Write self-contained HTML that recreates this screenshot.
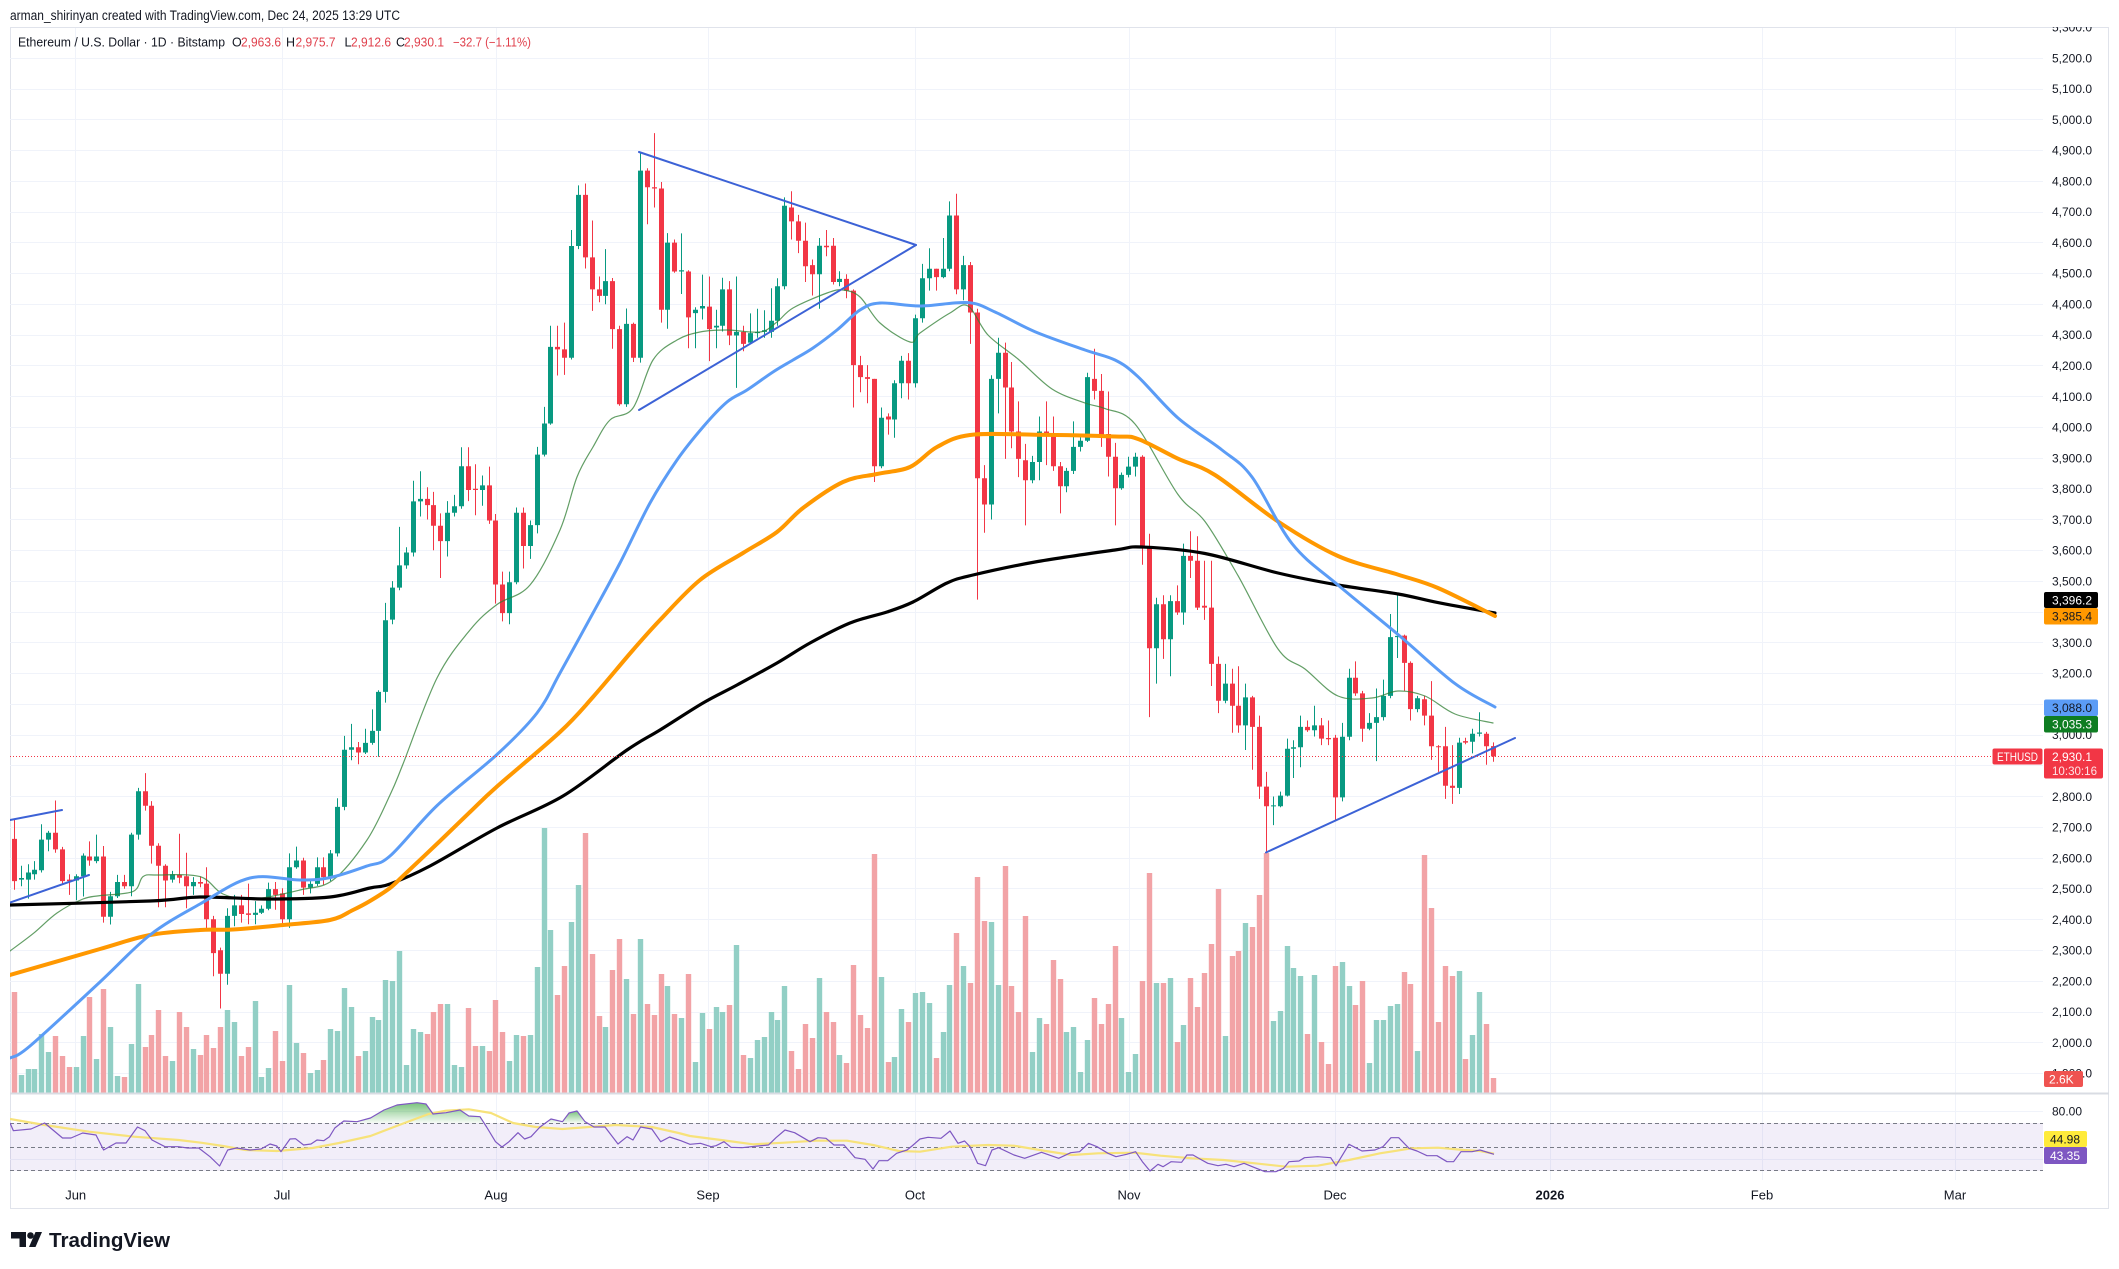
<!DOCTYPE html>
<html><head><meta charset="utf-8"><title>ETHUSD chart</title>
<style>
html,body{margin:0;padding:0;background:#fff;width:2119px;height:1269px;overflow:hidden}
svg{display:block}
text{font-family:"Liberation Sans",Arial,sans-serif}
</style></head><body>
<svg width="2119" height="1269" viewBox="0 0 2119 1269" xmlns="http://www.w3.org/2000/svg">
<defs>
<clipPath id="pane"><rect x="10" y="27" width="2033" height="1066"/></clipPath>
<clipPath id="axclip"><rect x="2043" y="27" width="66" height="1066"/></clipPath>
<clipPath id="rsi"><rect x="10" y="1094" width="2033" height="86"/></clipPath>
<linearGradient id="ob" x1="0" y1="0" x2="0" y2="1">
<stop offset="0" stop-color="#4caf50" stop-opacity="0.75"/>
<stop offset="1" stop-color="#4caf50" stop-opacity="0.05"/>
</linearGradient>
</defs>
<rect x="0" y="0" width="2119" height="1269" fill="#fff"/>
<text x="10" y="20" font-size="13.5" fill="#131722" textLength="390" lengthAdjust="spacingAndGlyphs">arman_shirinyan created with TradingView.com, Dec 24, 2025 13:29 UTC</text>
<rect x="10.5" y="27.5" width="2098" height="1181" fill="none" stroke="#e0e3eb" stroke-width="1"/>

<!-- grid -->
<path d="M10 58.5H2043M10 89.5H2043M10 119.5H2043M10 150.5H2043M10 181.5H2043M10 212.5H2043M10 242.5H2043M10 273.5H2043M10 304.5H2043M10 335.5H2043M10 365.5H2043M10 396.5H2043M10 427.5H2043M10 458.5H2043M10 488.5H2043M10 519.5H2043M10 550.5H2043M10 581.5H2043M10 612.5H2043M10 642.5H2043M10 673.5H2043M10 704.5H2043M10 735.5H2043M10 765.5H2043M10 796.5H2043M10 827.5H2043M10 858.5H2043M10 888.5H2043M10 919.5H2043M10 950.5H2043M10 981.5H2043M10 1012.5H2043M10 1042.5H2043M10 1073.5H2043" stroke="#f0f3fa" stroke-width="1" fill="none"/>
<path d="M75.5 28V1180M282.5 28V1180M496.5 28V1180M708.5 28V1180M915.5 28V1180M1129.5 28V1180M1335.5 28V1180M1550.5 28V1180M1762.5 28V1180M1955.5 28V1180" stroke="#f0f3fa" stroke-width="1" fill="none"/>

<g clip-path="url(#pane)" id="main">
<path id="gv" fill="#92cfc5" d=""/>
<path id="rv" fill="#f2a3a6" d=""/>
<path id="gw" stroke="#089981" stroke-width="1" fill="none" d=""/>
<path id="rw" stroke="#f23645" stroke-width="1" fill="none" d=""/>
<path id="gb" fill="#089981" d=""/>
<path id="rb" fill="#f23645" d=""/>

<polyline class="sm" fill="none" stroke="#2e7d32" stroke-opacity="0.75" stroke-width="1.2" stroke-linejoin="round" points="10,951 33,933.7 57,913 83,899 100,895.6 133,891.5 143,876.6 157,875 200,876.6 223,894 253,899 300,890 333,880 367,840 390,795 403,764 437,678 470,630 497,604.5 530,585 560,530 577,477 593,447 610,420 633,408 653,360 677,340 700,332 727,330 760,332 777,322 793,308 827,293 843,290 860,297 880,323 910,342 920,333 950,313 968,306 988,335 1018,359 1052,389 1085,403 1105,408.6 1135,424 1178,494.5 1205,521.5 1238,575.6 1278,649 1305,669 1338,696 1372,698 1398,691 1425,696 1455,714 1493,723"/>
<polyline class="sm" fill="none" stroke="#000" stroke-width="3.2" stroke-linejoin="round" points="10,905 150,901 200,897 267,899 330,897 370,888 390,884 430,866 497,828 563,796 627,750 660,730 703,703 737,685 777,663 810,643 850,623 887,612 913,602 947,583 973,575 1035,562 1115,550 1142,547 1205,553.5 1278,573 1338,585 1398,594 1438,602.6 1495,613"/>
<polyline class="sm" fill="none" stroke="#ff9800" stroke-width="4" stroke-linejoin="round" points="10,975 100,949 150,935 200,930 233,929.5 283,925 330,920 353,910 370,901 390,888 403,876 440,841 470,812 497,786.5 560,732 593,697 633,650 660,620 700,580 743,553 777,532 803,508 843,482 877,474 910,467 937,447 970,435 1035,434.7 1115,436.5 1138,439 1178,458.7 1215,475 1278,521.5 1338,556 1398,574.6 1438,588 1495,616"/>
<polyline class="sm" fill="none" stroke="#5b9cf6" stroke-width="3" stroke-linejoin="round" points="10,1058 30,1046 100,982 150,935 200,904 250,878 300,880 330,877.6 367,866 390,856 437,805.6 497,754.5 537,713 560,673 593,613 620,563 650,503 677,460 703,427 727,402 747,390 773,372 793,360 813,348 837,330 860,310 880,303 920,306 968,302.6 995,312 1035,331.7 1085,350 1115,360 1138,376.7 1178,418 1222,450 1252,477 1292,543.6 1338,585 1398,634.5 1455,683.6 1495,707"/>

<g stroke="#3c62d6" stroke-width="2" fill="none" stroke-linecap="round">
<line x1="10" y1="820" x2="62" y2="810"/>
<line x1="10" y1="902.5" x2="89" y2="875"/>
<line x1="639" y1="152" x2="916" y2="245"/>
<line x1="639" y1="410" x2="916" y2="245"/>
<line x1="1266" y1="852.5" x2="1515" y2="738"/>
</g>
</g>
<line x1="10" y1="756.5" x2="1992" y2="756.5" stroke="#f23645" stroke-width="1" stroke-dasharray="1,2"/>

<!-- legend -->
<g font-size="12.5">
<text x="18" y="46.5" fill="#131722" textLength="207" lengthAdjust="spacingAndGlyphs">Ethereum / U.S. Dollar · 1D · Bitstamp</text>
<text x="232" y="46.5" fill="#131722">O</text><text x="241" y="46.5" fill="#e0404c" textLength="40" lengthAdjust="spacingAndGlyphs">2,963.6</text>
<text x="286" y="46.5" fill="#131722">H</text><text x="295.5" y="46.5" fill="#e0404c" textLength="40" lengthAdjust="spacingAndGlyphs">2,975.7</text>
<text x="344.5" y="46.5" fill="#131722">L</text><text x="351" y="46.5" fill="#e0404c" textLength="40" lengthAdjust="spacingAndGlyphs">2,912.6</text>
<text x="396" y="46.5" fill="#131722">C</text><text x="404" y="46.5" fill="#e0404c" textLength="40" lengthAdjust="spacingAndGlyphs">2,930.1</text>
<text x="453" y="46.5" fill="#e0404c" textLength="78" lengthAdjust="spacingAndGlyphs">−32.7 (−1.11%)</text>
</g>

<!-- price axis labels -->
<g font-size="12" fill="#131722" clip-path="url(#axclip)">
<text x="2052" y="31.5">5,300.0</text>
<text x="2052" y="62.3">5,200.0</text>
<text x="2052" y="93.1">5,100.0</text>
<text x="2052" y="123.8">5,000.0</text>
<text x="2052" y="154.6">4,900.0</text>
<text x="2052" y="185.4">4,800.0</text>
<text x="2052" y="216.2">4,700.0</text>
<text x="2052" y="246.9">4,600.0</text>
<text x="2052" y="277.7">4,500.0</text>
<text x="2052" y="308.5">4,400.0</text>
<text x="2052" y="339.2">4,300.0</text>
<text x="2052" y="370">4,200.0</text>
<text x="2052" y="400.8">4,100.0</text>
<text x="2052" y="431.5">4,000.0</text>
<text x="2052" y="462.3">3,900.0</text>
<text x="2052" y="493.1">3,800.0</text>
<text x="2052" y="523.9">3,700.0</text>
<text x="2052" y="554.6">3,600.0</text>
<text x="2052" y="585.4">3,500.0</text>
<text x="2052" y="616.2">3,400.0</text>
<text x="2052" y="646.9">3,300.0</text>
<text x="2052" y="677.7">3,200.0</text>
<text x="2052" y="708.5">3,100.0</text>
<text x="2052" y="739.2">3,000.0</text>
<text x="2052" y="770">2,900.0</text>
<text x="2052" y="800.8">2,800.0</text>
<text x="2052" y="831.6">2,700.0</text>
<text x="2052" y="862.3">2,600.0</text>
<text x="2052" y="893.1">2,500.0</text>
<text x="2052" y="923.9">2,400.0</text>
<text x="2052" y="954.6">2,300.0</text>
<text x="2052" y="985.4">2,200.0</text>
<text x="2052" y="1016.2">2,100.0</text>
<text x="2052" y="1046.9">2,000.0</text>
<text x="2052" y="1077.7">1,900.0</text>
</g>

<!-- price label boxes -->
<rect x="2044" y="592" width="54" height="16" rx="2" fill="#000"/>
<text x="2052" y="604.5" font-size="12" fill="#fff">3,396.2</text>
<rect x="2044" y="608" width="54" height="16.5" rx="2" fill="#ff9800"/>
<text x="2052" y="620.5" font-size="12" fill="#131722">3,385.4</text>
<rect x="2044" y="699.5" width="54" height="16.5" rx="2" fill="#5b9cf6"/>
<text x="2052" y="712" font-size="12" fill="#131722">3,088.0</text>
<rect x="2044" y="716" width="54" height="16.5" rx="2" fill="#0e7d22"/>
<text x="2052" y="728.5" font-size="12" fill="#fff">3,035.3</text>
<rect x="1992.5" y="748.5" width="50" height="16" rx="2" fill="#f23645"/>
<text x="1997" y="761" font-size="12" fill="#fff" textLength="41" lengthAdjust="spacingAndGlyphs">ETHUSD</text>
<rect x="2044" y="748.5" width="59" height="30" rx="2" fill="#f23645"/>
<text x="2052" y="761" font-size="12" fill="#fff">2,930.1</text>
<text x="2052" y="775" font-size="12" fill="#fde3e5" textLength="45" lengthAdjust="spacingAndGlyphs">10:30:16</text>
<rect x="2044" y="1071" width="39" height="16" rx="2" fill="#ef5350"/>
<text x="2049" y="1083.5" font-size="12" fill="#fff">2.6K</text>

<!-- pane separator -->
<line x1="10" y1="1093.5" x2="2109" y2="1093.5" stroke="#d9dce3" stroke-width="2"/>

<!-- RSI pane -->
<path d="M10 1111.5H2043M10 1159.5H2043" stroke="#f0f3fa" stroke-width="1"/>
<rect x="10" y="1123" width="2033" height="48" fill="#7e57c2" fill-opacity="0.1"/>
<g stroke="#787b86" stroke-width="1" stroke-dasharray="4,3">
<line x1="10" y1="1123.5" x2="2043" y2="1123.5"/>
<line x1="10" y1="1147.5" x2="2043" y2="1147.5"/>
<line x1="10" y1="1170.5" x2="2043" y2="1170.5"/>
</g>
<g clip-path="url(#rsi)">
<polygon fill="url(#ob)" points="340,1123 343.8,1121 357,1121.7 370.5,1118 384,1110 397,1105 417,1102.7 426,1104 433,1114 446,1112.7 460,1110 468.75,1116 480,1116.7 485,1123"/>
<polygon fill="url(#ob)" points="548,1123 551,1119 562.5,1121.7 569,1113 577,1111 585,1121.7 587,1123"/>
<polyline fill="none" stroke="#f7e27a" stroke-width="2.2" stroke-linejoin="round" points="10,1119 44.6,1125 89,1131.7 134,1136.7 178.6,1140 201,1142.7 223,1146 245.5,1150 276.8,1151 312.5,1148 339,1143 370.5,1136 401.8,1124 428.6,1114 446,1110.7 468.75,1109.3 491,1113 513,1123 535.7,1127 562.5,1129 589,1127 616,1125 651.8,1127 678.6,1133 690,1136 721,1140 753,1144.3 784,1142.7 815.5,1140.7 847,1140.7 873,1145 899,1151 920,1151.7 951.5,1146.7 988,1145 1014,1145.7 1045.6,1151 1072,1155 1098,1153.3 1134.6,1152.7 1160.7,1155.7 1192,1158.3 1223.5,1160 1255,1163.3 1286,1166.7 1317.6,1165.7 1349,1160 1380,1153.3 1411.7,1148.3 1438,1147.7 1464,1150 1480,1151 1494,1153.7"/>
<polyline fill="none" stroke="#7e57c2" stroke-width="1.2" stroke-linejoin="round" points="10,1123 13.4,1130.7 31,1129 44.6,1123 62.5,1138 71,1138 82.6,1133 96,1135 103.6,1150 116,1143 126,1143 137.5,1127 145,1130.7 152,1140 165,1146.7 178.6,1146.7 187.5,1148 198.7,1148 210,1156.7 219.6,1166 227.7,1150 236.6,1148 250,1150 261,1149 270,1144 276.8,1146 281,1151.7 290,1139 295.5,1138.7 303.6,1145 311,1144 317,1140 323.7,1140.7 329.5,1136.7 334.8,1128 343.8,1121 357,1121.7 370.5,1118 384,1110 397,1105 417,1102.7 426,1104 433,1114 446,1112.7 460,1110 468.75,1116 480,1116.7 486.6,1127 495.5,1141.7 502,1147 509,1141.7 518,1132.7 524.6,1139 531,1136.7 540,1127 551,1119 562.5,1121.7 569,1113 577,1111 585,1121.7 594,1127 605,1127 618,1144 627,1136.7 633,1140 640.6,1127 651.8,1129 660.7,1141.7 669.6,1137 680.8,1140.7 690,1144.3 700.5,1143.3 711,1146.7 716,1145.7 724,1141.7 731,1147.3 742,1147.7 758,1146 768.5,1145 776,1137.7 785,1130 794.6,1132.7 810,1141.7 818,1137.7 826,1138.3 834,1145 844,1145 855,1157.7 865,1159.3 873,1169 879,1160.7 887.7,1160.7 896.6,1153.3 907,1150 912,1146 920,1139 928,1137.3 941,1138.3 950,1131 958,1143.3 964.6,1141 970,1146.7 977.6,1163.3 985.5,1165.7 992,1150 998.6,1147.7 1014,1155 1024.7,1158.3 1041.5,1152.3 1058.7,1158.3 1070.7,1152.7 1079.6,1151.7 1088.5,1143.3 1097,1146.7 1108,1153.3 1116,1156.7 1126.7,1154.3 1135.6,1151.7 1142.4,1161.7 1150,1171 1158,1164.3 1163,1166.7 1171,1161.7 1181.6,1162.3 1186.9,1155 1193,1155 1200,1159 1207.8,1163.3 1218,1165.7 1226,1164.3 1234,1166.7 1244,1163.3 1254.8,1167.7 1265,1171.7 1275.8,1171.7 1283.6,1168.3 1289,1161.7 1299,1161 1304.5,1157.7 1317.6,1156.7 1330.7,1157.7 1336,1165.7 1349,1144.3 1362,1151 1375,1150 1383,1146.7 1391,1137.7 1398.7,1137.7 1409,1148.3 1417,1151 1427,1155.7 1437,1155.7 1447,1161.7 1453.6,1161.7 1461,1151.7 1472,1151.7 1480,1150 1494,1154.3"/>
</g>
<text x="2052" y="1115.5" font-size="12" fill="#131722">80.00</text>
<rect x="2044" y="1131" width="43" height="16" rx="2" fill="#ffeb3b"/>
<text x="2050" y="1143.5" font-size="12" fill="#131722">44.98</text>
<rect x="2044" y="1147" width="43" height="17" rx="2" fill="#7e57c2"/>
<text x="2050" y="1160" font-size="12" fill="#fff">43.35</text>

<!-- time axis -->
<g font-size="13" fill="#131722" text-anchor="middle">
<text x="75.7" y="1199.5">Jun</text>
<text x="282" y="1199.5">Jul</text>
<text x="496" y="1199.5">Aug</text>
<text x="708" y="1199.5">Sep</text>
<text x="915" y="1199.5">Oct</text>
<text x="1129" y="1199.5">Nov</text>
<text x="1335" y="1199.5">Dec</text>
<text x="1550" y="1199.5" font-weight="bold">2026</text>
<text x="1762" y="1199.5">Feb</text>
<text x="1955" y="1199.5">Mar</text>
</g>

<!-- logo -->
<path d="M11 1232H26V1247H19.5V1238.5H11Z" fill="#131722"/>
<circle cx="30.5" cy="1235.5" r="3.3" fill="#131722"/>
<path d="M35.5 1232H42L35.5 1247H29Z" fill="#131722"/>
<text x="49" y="1247" font-size="20" font-weight="bold" fill="#131722" textLength="121" lengthAdjust="spacingAndGlyphs">TradingView</text>
</svg>
<script>
(function(){
var s="2662,2727,2497,2525,992;2530,2575,2508,2535,1075;2530,2580,2468,2553,1069;2547,2590,2530,2562,1069;2560,2710,2553,2660,1034;2660,2688,2622,2682,1052;2682,2787,2617,2628,1036;2628,2636,2515,2525,1056;2530,2547,2480,2525,1067;2527,2547,2463,2541,1067;2541,2615,2475,2608,1036;2605,2654,2575,2592,997;2590,2676,2583,2605,1059;2605,2639,2390,2409,989;2409,2490,2384,2476,1027;2476,2545,2470,2522,1076;2522,2545,2500,2508,1077;2508,2682,2476,2676,1044;2676,2828,2660,2817,984;2817,2876,2754,2770,1047;2770,2785,2582,2640,1035;2640,2648,2440,2575,1010;2575,2580,2440,2527,1056;2530,2558,2520,2547,1061;2545,2679,2518,2536,1012;2541,2617,2437,2508,1027;2508,2538,2480,2522,1049;2522,2540,2505,2517,1055;2517,2570,2367,2401,1035;2401,2412,2216,2291,1048;2300,2309,2111,2224,1027;2224,2437,2188,2412,1010;2412,2480,2378,2446,1022;2446,2480,2390,2418,1056;2420,2517,2385,2415,1047;2415,2460,2385,2422,1001;2422,2446,2418,2435,1077;2435,2520,2430,2499,1068;2499,2522,2432,2480,1031;2485,2502,2384,2401,1061;2401,2615,2373,2570,985;2570,2637,2565,2592,1043;2592,2601,2480,2504,1053;2504,2530,2485,2516,1073;2516,2602,2509,2570,1070;2570,2602,2513,2538,1060;2538,2626,2525,2615,1029;2615,2794,2605,2766,1031;2766,2997,2755,2952,988;2952,3036,2918,2960,1007;2960,2977,2905,2943,1056;2943,3020,2938,2974,1051;2974,3083,2968,3013,1017;3013,3145,2929,3140,1020;3140,3429,3105,3373,980;3375,3500,3360,3479,981;3479,3676,3470,3551,951;3551,3610,3540,3593,1065;3593,3826,3580,3759,1029;3759,3857,3710,3767,1032;3767,3805,3700,3747,1034;3747,3790,3600,3680,1012;3680,3720,3510,3630,1004;3630,3760,3580,3722,1004;3722,3780,3710,3743,1065;3743,3935,3735,3873,1067;3873,3935,3760,3796,1008;3800,3880,3714,3796,1046;3796,3843,3745,3811,1046;3811,3872,3686,3697,1051;3697,3718,3427,3489,1000;3489,3531,3369,3396,1032;3396,3531,3360,3496,1061;3496,3739,3490,3722,1035;3722,3739,3541,3614,1036;3614,3697,3572,3682,1035;3682,3936,3655,3911,967;3911,4066,3905,4012,828;4012,4330,4008,4261,930;4261,4330,4168,4253,995;4253,4340,4170,4226,966;4226,4641,4220,4589,922;4589,4786,4579,4755,885;4755,4792,4516,4552,833;4552,4672,4378,4448,954;4448,4490,4406,4427,1016;4427,4579,4400,4475,1027;4475,4485,4255,4319,970;4319,4330,4070,4075,939;4075,4386,4066,4336,979;4336,4340,4212,4226,1014;4226,4890,4210,4834,939;4834,4842,4660,4780,1004;4780,4956,4714,4776,1015;4776,4797,4340,4382,974;4382,4631,4320,4600,986;4600,4610,4502,4506,1014;4506,4630,4433,4510,1018;4506,4510,4257,4357,974;4371,4390,4257,4382,1062;4386,4496,4350,4394,1013;4392,4490,4215,4319,1029;4324,4382,4257,4330,1007;4330,4486,4311,4448,1012;4448,4475,4267,4298,1005;4298,4490,4128,4310,945;4310,4330,4247,4271,1055;4275,4370,4270,4306,1058;4306,4385,4291,4310,1040;4310,4380,4291,4315,1037;4310,4452,4291,4346,1012;4346,4484,4330,4458,1020;4458,4747,4448,4720,986;4714,4767,4610,4669,1051;4669,4690,4566,4606,1069;4606,4665,4472,4523,1024;4527,4545,4428,4497,1038;4497,4615,4385,4590,978;4590,4641,4556,4585,1012;4590,4615,4464,4472,1022;4472,4507,4458,4482,1055;4482,4497,4419,4444,1063;4444,4448,4064,4202,965;4202,4232,4114,4163,1015;4163,4202,4078,4157,1028;4157,4157,3822,3873,854;3873,4064,3867,4031,977;4035,4045,3976,4025,1062;4025,4153,3966,4143,1057;4143,4232,4094,4216,1009;4216,4241,4090,4143,1022;4143,4366,4129,4354,993;4354,4531,4340,4484,992;4484,4582,4444,4515,1003;4515,4515,4444,4488,1058;4488,4615,4484,4515,1032;4515,4734,4507,4688,985;4688,4759,4432,4448,933;4448,4557,4413,4527,966;4527,4537,4271,4373,983;4373,4385,3440,3834,877;3834,3877,3657,3749,921;3749,4169,3700,4157,922;4157,4291,4045,4242,985;4242,4275,3897,4129,866;4129,4212,3932,3986,986;3986,4084,3838,3897,1012;3893,3946,3681,3828,916;3828,3907,3818,3887,1052;3887,4035,3828,3986,1018;3986,4084,3877,3976,1024;3980,4035,3858,3873,960;3873,3887,3720,3808,979;3808,3868,3789,3858,1032;3858,4019,3848,3936,1027;3936,3968,3921,3956,1072;3956,4177,3952,4163,1040;4157,4255,4090,4118,998;4118,4173,3936,3976,1024;3978,4116,3840,3904,1004;3904,3949,3681,3802,946;3802,3853,3797,3845,1018;3845,3904,3837,3872,1072;3872,3917,3840,3904,1054;3904,3909,3553,3606,981;3606,3654,3058,3282,873;3282,3446,3167,3425,983;3425,3454,3247,3311,983;3311,3454,3191,3435,978;3435,3486,3390,3398,1042;3398,3622,3358,3582,1025;3582,3662,3510,3566,978;3566,3646,3406,3414,1007;3420,3566,3374,3414,973;3414,3566,3159,3231,944;3231,3255,3071,3111,889;3111,3231,3103,3167,1036;3167,3215,3007,3095,956;3095,3223,3007,3031,951;3031,3167,2951,3122,923;3122,3127,2887,3026,927;3026,3063,2792,2832,895;2832,2880,2619,2768,853;2768,2800,2707,2771,1021;2768,2816,2765,2803,1011;2803,2988,2800,2955,946;2955,2983,2860,2960,968;2960,3063,2895,3026,976;3026,3047,3010,3015,1034;3015,3095,2995,3031,975;3031,3055,2967,2988,1042;2990,3047,2967,2986,1064;2991,3000,2720,2797,966;2797,3039,2784,2994,962;2994,3215,2983,3186,986;3186,3239,3127,3135,1005;3135,3143,2978,3020,981;3020,3071,3015,3039,1063;3039,3151,2915,3058,1020;3058,3180,3047,3127,1020;3127,3393,3119,3318,1006;3318,3454,3250,3322,1004;3323,3326,3143,3234,972;3234,3239,3047,3084,984;3084,3127,3074,3119,1051;3116,3127,3031,3063,855;3063,3175,2919,2963,908;2963,2967,2880,2960,1022;2963,3026,2792,2835,966;2835,2967,2776,2828,976;2828,2991,2808,2975,971;2980,2991,2970,2975,1059;2978,3020,2940,3004,1035;3004,3074,2995,3008,992;3004,3010,2903,2963,1024;2963.6,2975.7,2912.6,2930.1,1078";
var rows=s.split(";");
var gw="",rw="",gb="",rb="",gv="",rv="";
function Y(p){return 58+(5200-p)*0.3077;}
for(var i=0;i<rows.length;i++){
 var a=rows[i].split(",").map(Number);
 var o=a[0],h=a[1],l=a[2],c=a[3],vt=a[4];
 var x=75.7+6.88*(i-9);
 var xr=Math.round(x)+0.5;
 var up=c>=o;
 var t=Y(Math.max(o,c)),b=Y(Math.min(o,c));
 if(b-t<1){b=t+1;}
 var w="M"+xr+" "+Y(h).toFixed(1)+"V"+Y(l).toFixed(1);
 var bd="M"+(xr-2.5)+" "+t.toFixed(1)+"H"+(xr+2.5)+"V"+b.toFixed(1)+"H"+(xr-2.5)+"Z";
 var v="M"+(xr-2.7).toFixed(1)+" "+vt+"H"+(xr+2.7).toFixed(1)+"V1093H"+(xr-2.7).toFixed(1)+"Z";
 if(up){gw+=w;gb+=bd;gv+=v;}else{rw+=w;rb+=bd;rv+=v;}
}
document.getElementById("gw").setAttribute("d",gw);
document.getElementById("rw").setAttribute("d",rw);
document.getElementById("gb").setAttribute("d",gb);
document.getElementById("rb").setAttribute("d",rb);
document.getElementById("gv").setAttribute("d",gv);
document.getElementById("rv").setAttribute("d",rv);

/* smooth moving-average polylines into Catmull-Rom curves */
var NS="http://www.w3.org/2000/svg";
var pls=document.querySelectorAll("polyline.sm");
for(var k=0;k<pls.length;k++){
 var pl=pls[k];
 var pts=pl.getAttribute("points").trim().split(/\s+/).map(function(q){var z=q.split(",");return [parseFloat(z[0]),parseFloat(z[1])];});
 var d="M"+pts[0][0]+" "+pts[0][1];
 for(var j=0;j<pts.length-1;j++){
  var p0=pts[j-1]||pts[j],p1=pts[j],p2=pts[j+1],p3=pts[j+2]||pts[j+1];
  var c1x=p1[0]+(p2[0]-p0[0])/6,c1y=p1[1]+(p2[1]-p0[1])/6;
  var c2x=p2[0]-(p3[0]-p1[0])/6,c2y=p2[1]-(p3[1]-p1[1])/6;
  d+="C"+c1x.toFixed(1)+" "+c1y.toFixed(1)+" "+c2x.toFixed(1)+" "+c2y.toFixed(1)+" "+p2[0]+" "+p2[1];
 }
 var path=document.createElementNS(NS,"path");
 path.setAttribute("d",d);
 ["fill","stroke","stroke-opacity","stroke-width","stroke-linejoin"].forEach(function(at){var v=pl.getAttribute(at);if(v!==null)path.setAttribute(at,v);});
 path.setAttribute("stroke-linecap","round");
 pl.parentNode.insertBefore(path,pl);
 pl.setAttribute("display","none");
}
})();
</script>
</body></html>
